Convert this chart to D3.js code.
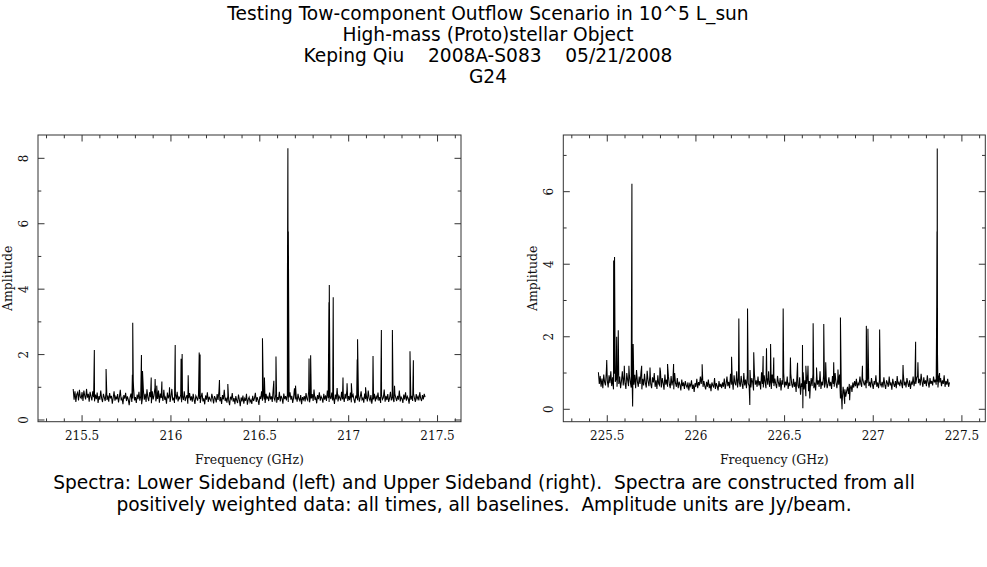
<!DOCTYPE html>
<html>
<head>
<meta charset="utf-8">
<style>
  body { margin: 0; background: #fff; }
  svg text { fill: #000; }
  .title { font-family: "DejaVu Sans", sans-serif; font-size: 18.6px; }
  .tick-label { font-family: "DejaVu Serif", serif; font-size: 12px; fill: #111; }
  .axis-label { font-family: "DejaVu Serif", serif; font-size: 12.5px; fill: #111; }
</style>
</head>
<body>
<svg id="chart" width="987" height="567"></svg>
<script src="https://d3js.org/d3.v7.min.js"></script>
<script>
// ---- data ----
// baseline channels, one every 0.005 GHz from the start frequency
const lsbStart = 215.45
const usbStart = 225.45
const chanStep = 0.005

const lsbNoise = [
  .95,.62,.88,.55,.78,.84,.60,.92,.70,.66,.85,.58,.90,.74,.63,.95,.68,.80,.56,.86,
  .72,.60,.88,.70,.57,.78,.64,.84,.52,.73,.62,.90,.66,.55,.80,.69,.58,.86,.61,.75,
  .56,.82,.66,.74,.50,.68,.88,.59,.71,.63,.79,.54,.70,.92,.60,.67,.48,.76,.65,.83,
  .58,.72,.62,.45,.69,.81,.55,.66,.97,.60,.70,.52,.78,.64,.86,.59,.73,.48,.67,.90,
  .62,.80,.55,.94,.68,.58,.85,.70,.51,.88,.63,.76,.99,.57,.72,.64,.90,.53,.81,.67,
  .74,.58,.92,.62,.69,.50,.84,.66,.77,.55,.71,.95,.60,.68,.52,.79,.63,.86,.57,.70,
  .65,.78,.54,.73,.61,.88,.58,.69,.76,.50,.67,.82,.60,.72,.56,.80,.63,.49,.74,.68,
  .59,.77,.64,.52,.70,.83,.57,.66,.48,.75,.62,.85,.55,.71,.63,.58,.80,.67,.51,.73,
  .66,.54,.79,.61,.88,.57,.70,.49,.76,.63,.92,.58,.68,.53,.74,.60,.45,.71,.64,.82,
  .56,.67,.48,.73,.60,.52,.78,.62,.42,.69,.57,.75,.50,.66,.59,.80,.47,.63,.70,.55,
  .62,.49,.74,.58,.67,.83,.55,.70,.61,.46,.72,.64,.88,.59,.76,.63,.52,.80,.66,.71,
  .58,.84,.63,.72,.55,.92,.67,.60,.79,.53,.70,.62,.86,.57,.74,.66,.50,.81,.64,.73,
  .60,.77,.55,.69,.85,.62,.74,.52,.68,.97,.63,.71,.56,.80,.65,.59,.76,.48,.70,.62,
  .73,.57,.82,.65,.60,.88,.54,.71,.66,.79,.58,.93,.62,.69,.51,.76,.64,.85,.59,.72,
  .66,.53,.80,.62,.75,.58,.90,.67,.55,.72,.64,.84,.60,.70,.49,.78,.63,.98,.57,.74,
  .68,.59,.86,.63,.71,.55,.80,.65,.92,.58,.73,.61,.84,.54,.69,.77,.62,.52,.75,.66,
  .60,.78,.56,.70,.88,.62,.67,.53,.81,.64,.72,.57,.90,.66,.59,.76,.50,.69,.63,.80,
  .57,.72,.65,.84,.59,.70,.52,.77,.63,.68,.93,.56,.74,.61,.79,.55,.67,.86,.60,.71,
  .64,.55,.80,.68,.58,.74,.62,.90,.57,.70,.65,.52,.78,.63,.85,.59,.72,.66,.50,.76,
  .62,.74,.58,.81,.67,.55,.79,.64,.72,.60,.85,.66,.58,.76,.63,.80,.70
]

const usbNoise = [
  1.02,.70,.92,.62,.85,.58,.96,.75,.66,1.08,.80,.60,.94,.72,1.05,.64,.88,.55,.98,.76,
  .84,.62,1.10,.70,.90,.58,.78,1.05,.66,.94,.72,.56,1.00,.80,.64,.92,.74,.60,.86,1.02,
  .68,.95,.58,1.08,.76,.62,.90,.70,1.02,.55,.84,.66,.98,.72,.60,1.06,.78,.64,.92,.70,
  .58,.88,.74,1.00,.62,.80,.56,.94,.70,.66,1.04,.60,.86,.72,.54,.96,.68,.82,.62,.90,
  .70,.58,.92,.66,.80,.55,1.00,.72,.62,.86,.58,.76,.68,.52,.82,.64,.74,.56,.78,.66,
  .60,.74,.52,.70,.64,.80,.56,.68,.48,.72,.62,.84,.58,.75,.66,.90,.70,.96,.62,.78,
  .64,.55,.76,.62,.82,.58,.70,.50,.74,.66,.60,.86,.56,.72,.64,.52,.78,.62,.70,.58,
  .74,.62,.85,.56,.70,.90,.64,.76,.58,.98,.68,.80,.54,.94,.72,.66,1.05,.60,.88,.74,
  .62,.92,.70,.56,1.00,.66,.82,.58,.95,.72,.64,1.08,.60,.86,.74,.52,.98,.68,.80,.62,
  .90,.66,.78,.55,1.02,.70,.60,.94,.74,.58,.88,.68,1.05,.62,.80,.56,.96,.72,.64,.85,
  .70,.58,.92,.74,.62,.86,.52,.80,.68,1.00,.60,.76,.66,.90,.56,.74,.64,.98,.70,.60,
  .84,.62,.76,.48,.95,.66,.58,.88,.40,.72,.62,1.02,.55,.80,.36,.70,.92,.50,.78,.60,
  .86,.64,.98,.58,.74,.52,.90,.68,.80,.62,1.05,.56,.76,.66,.94,.60,.72,.84,.58,.70,
  .88,.64,.76,.56,.92,.70,.62,1.00,.74,.58,.84,.68,.96,.30,.48,.22,.62,.40,.55,.35,
  .50,.62,.42,.70,.56,.66,.48,.74,.60,.78,.64,.84,.58,.72,.66,.90,.70,.62,.86,.74,
  .66,.80,.58,.72,.92,.64,.76,.60,.86,.70,.56,.78,.68,.94,.62,.74,.58,.82,.70,.64,
  .76,.60,.88,.68,.56,.80,.72,.62,.90,.66,.74,.54,.84,.70,.62,.78,.58,.92,.68,.74,
  .64,.82,.70,.58,.96,.66,.76,.60,.86,.72,.62,.80,.56,.74,.68,.90,.64,.78,.70,.86,
  .92,.72,.84,.66,.98,.76,.62,.88,.70,.80,.64,.94,.74,.60,.86,.70,.78,.66,.90,.74,
  .82,.68,.76,.60,.90,.74,.86,.64,.80,.70,.94,.62,.78,.68,.84,.62,.74
]

// spectral lines and dips (GHz, Jy/beam)
const lsbLineFreq = [215.566,215.569,215.635,215.783,215.785,215.788,215.834,215.840,215.889,215.911,
  215.920,215.949,215.992,216.024,216.057,216.063,216.097,216.159,216.164,216.273,216.320,
  216.515,216.526,216.579,216.591,216.6555,216.658,216.6605,216.701,216.777,216.786,
  216.889,216.891,216.913,216.968,216.991,217.015,217.048,217.050,217.095,217.137,217.184,
  217.246,217.258,217.345,217.364]
const lsbLineAmp = [1.05,2.14,1.56,1.38,2.97,1.2,1.99,1.5,1.3,1.25,
  1.05,1.18,1.0,2.29,1.87,2.02,1.37,2.06,2.0,1.22,1.1,
  2.5,1.3,1.2,1.94,4.4,8.31,5.76,1.05,1.88,1.98,
  3.6,4.13,3.75,1.3,1.12,1.12,1.85,2.47,1.0,1.96,2.75,
  2.75,1.05,2.1,1.83]

const usbLineFreq = [225.497,225.536,225.541,225.553,225.562,225.596,225.622,225.639,225.643,225.646,
  225.694,225.741,225.797,225.840,225.874,226.035,226.201,226.242,226.291,226.304,226.326,
  226.379,226.398,226.421,226.439,226.492,226.533,226.573,226.601,226.603,226.620,226.632,
  226.642,226.661,226.680,226.721,226.732,226.777,226.801,226.815,226.824,226.839,226.867,
  226.939,226.961,226.970,227.036,227.168,227.239,227.252,227.358,227.3595,227.361,227.3625,227.374]
const usbLineAmp = [1.36,4.1,4.2,2.0,2.18,1.2,1.2,6.22,0.08,1.8,
  1.2,1.15,1.15,1.25,1.25,1.24,1.45,2.5,2.78,0.12,1.57,
  1.47,1.68,1.8,1.43,2.78,1.43,1.28,1.77,0.03,1.2,1.2,
  0.3,2.37,1.15,2.35,1.3,1.3,1.1,2.53,0.0,0.15,0.25,
  1.2,2.3,2.22,2.2,1.22,1.86,1.3,2.9,4.9,7.19,1.5,1.0]

const lsbTicks = [215.5, 216, 216.5, 217, 217.5]
const usbTicks = [225.5, 226, 226.5, 227, 227.5]
const lsbAmpTicks = [0, 2, 4, 6, 8]
const usbAmpTicks = [0, 2, 4, 6]

const titleLines = [
  "Testing Tow-component Outflow Scenario in 10^5 L_sun",
  "High-mass (Proto)stellar Object",
  "Keping Qiu    2008A-S083    05/21/2008",
  "G24"
]
const captionLines = [
  "Spectra: Lower Sideband (left) and Upper Sideband (right).  Spectra are constructed from all",
  "positively weighted data: all times, all baselines.  Amplitude units are Jy/beam."
]

// ---- layout ----
let svg = d3.select("#chart")

svg.append("g").selectAll("text")
  .data(titleLines)
  .enter()
  .append("text")
    .attr("class", "title")
    .attr("x", 488)
    .attr("y", (d, i) => 20 + i * 21)
    .attr("text-anchor", "middle")
    .style("white-space", "pre")
    .text(d => d)

svg.append("g").selectAll("text")
  .data(captionLines)
  .enter()
  .append("text")
    .attr("class", "title")
    .attr("x", 484)
    .attr("y", (d, i) => 489 + i * 22)
    .attr("text-anchor", "middle")
    .style("white-space", "pre")
    .text(d => d)

function spectrum(start, noise, lineF, lineA) {
  let pts = noise.map((a, i) => ({ f: start + i * chanStep, a: a }))
  lineF.forEach((f, i) => pts.push({ f: f, a: lineA[i] }))
  return pts.sort((p, q) => p.f - q.f)
}

let panels = [
  { id: "lsb", left: 38, right: 461, top: 135, bottom: 421.7,
    fDomain: [215.252, 217.632], aDomain: [-0.052, 8.713], aMax: 8,
    ticks: lsbTicks, ampTicks: lsbAmpTicks,
    data: spectrum(lsbStart, lsbNoise, lsbLineFreq, lsbLineAmp) },
  { id: "usb", left: 563.3, right: 985.3, top: 135, bottom: 421.7,
    fDomain: [225.252, 227.632], aDomain: [-0.342, 7.563], aMax: 7,
    ticks: usbTicks, ampTicks: usbAmpTicks,
    data: spectrum(usbStart, usbNoise, usbLineFreq, usbLineAmp) }
]

panels.forEach(drawPanel)

function drawPanel(p) {
  let x = d3.scaleLinear().domain(p.fDomain).range([p.left, p.right])
  let y = d3.scaleLinear().domain(p.aDomain).range([p.bottom, p.top])
  let g = svg.append("g").attr("id", p.id)

  g.append("clipPath").attr("id", "clip-" + p.id)
    .append("rect")
      .attr("x", p.left).attr("y", p.top)
      .attr("width", p.right - p.left).attr("height", p.bottom - p.top)

  // the spectrum
  let line = d3.line().x(d => x(d.f)).y(d => y(d.a))
  g.append("path")
    .datum(p.data)
    .attr("clip-path", "url(#clip-" + p.id + ")")
    .attr("d", line)
    .attr("fill", "none")
    .attr("stroke", "#000")
    .attr("stroke-width", 1.05)
    .attr("stroke-linejoin", "miter")

  // frame
  g.append("rect")
    .attr("x", p.left).attr("y", p.top)
    .attr("width", p.right - p.left).attr("height", p.bottom - p.top)
    .attr("fill", "none").attr("stroke", "#333").attr("stroke-width", 1)

  // ticks on all four sides, pointing inwards
  let f0 = p.ticks[0] - 0.2
  let minorF = d3.range(0, 24).map(i => +(f0 + i * 0.1).toFixed(1))
    .filter(f => f > p.fDomain[0] && f < p.fDomain[1])
  let minorA = d3.range(0, p.aMax + 1)
  let tickPath = []
  minorF.forEach(f => {
    let len = p.ticks.some(t => Math.abs(t - f) < 1e-6) ? 6.5 : 3.3
    tickPath.push(`M${x(f)},${p.bottom}v${-len}`, `M${x(f)},${p.top}v${len}`)
  })
  minorA.forEach(a => {
    let len = p.ampTicks.includes(a) ? 6.5 : 3.3
    tickPath.push(`M${p.left},${y(a)}h${len}`, `M${p.right},${y(a)}h${-len}`)
  })
  g.append("path")
    .attr("d", tickPath.join(""))
    .attr("stroke", "#333").attr("stroke-width", 1).attr("fill", "none")

  g.append("g").selectAll("text")
    .data(p.ticks)
    .enter()
    .append("text")
      .attr("class", "tick-label")
      .attr("x", d => x(d))
      .attr("y", 439.5)
      .attr("text-anchor", "middle")
      .text(d => String(d))

  g.append("g").selectAll("text")
    .data(p.ampTicks)
    .enter()
    .append("text")
      .attr("class", "tick-label")
      .attr("transform", d => `translate(${p.left - 10.5},${y(d)}) rotate(-90)`)
      .attr("text-anchor", "middle")
      .text(d => String(d))

  g.append("text")
    .attr("class", "axis-label")
    .attr("x", (p.left + p.right) / 2)
    .attr("y", 464)
    .attr("text-anchor", "middle")
    .text("Frequency (GHz)")

  g.append("text")
    .attr("class", "axis-label")
    .attr("transform", `translate(${p.left - 26},${(p.top + p.bottom) / 2}) rotate(-90)`)
    .attr("text-anchor", "middle")
    .text("Amplitude")
}
</script>
</body>
</html>
